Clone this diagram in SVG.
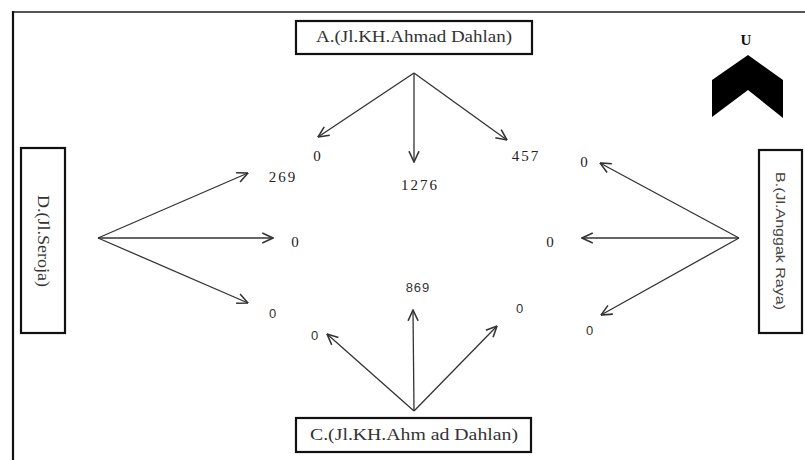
<svg xmlns="http://www.w3.org/2000/svg" width="805" height="460" viewBox="0 0 805 460">
<defs>
<marker id="ah" markerUnits="userSpaceOnUse" markerWidth="12" markerHeight="12" viewBox="0 0 10 10" refX="9.5" refY="5" orient="auto">
<path d="M0.5,0.8 L9.5,5 L0.5,9.2" fill="none" stroke="#333" stroke-width="1.3"/>
</marker>
</defs>
<style>
.box{fill:#fff;stroke:#111;stroke-width:2.2}
.lbl{font-family:"Liberation Serif",serif;font-size:16px;fill:#333}
.lbls{font-family:"Liberation Sans",sans-serif;font-size:13px;fill:#444}
.ns{font-family:"Liberation Serif",serif;font-size:15px;fill:#222;text-anchor:middle;letter-spacing:2px}
.nb{font-family:"Liberation Sans",sans-serif;font-size:13px;fill:#333;text-anchor:middle;letter-spacing:1px}
.c line{stroke:#333;stroke-width:1.3;marker-end:url(#ah)}
</style>
<rect width="805" height="460" fill="#fff"/>
<g id="frame">
<line x1="12" y1="12" x2="805" y2="12" stroke="#555" stroke-width="2.2"/>
<line x1="13" y1="11" x2="13" y2="460" stroke="#111" stroke-width="2.2"/>
</g>
<g id="nodeA">
<rect class="box" x="296" y="21" width="236" height="33"/>
<text class="lbl" x="414" y="42" text-anchor="middle" textLength="196" lengthAdjust="spacingAndGlyphs">A.(Jl.KH.Ahmad Dahlan)</text>
</g>
<g id="nodeC">
<rect class="box" x="296" y="418" width="235" height="34"/>
<text class="lbl" x="414" y="440" text-anchor="middle" textLength="208" lengthAdjust="spacingAndGlyphs">C.(Jl.KH.Ahm ad Dahlan)</text>
</g>
<g id="nodeD">
<rect class="box" x="21" y="148" width="44" height="185"/>
<text class="lbl" transform="translate(38,241) rotate(90)" text-anchor="middle" textLength="92" lengthAdjust="spacingAndGlyphs" fill="#555">D.(Jl.Seroja)</text>
</g>
<g id="nodeB">
<rect class="box" x="759" y="150" width="43" height="183"/>
<text class="lbls" transform="translate(776,241) rotate(90)" text-anchor="middle" textLength="138" lengthAdjust="spacingAndGlyphs">B.(Jl.Anggak Raya)</text>
</g>
<g id="north">
<text x="746" y="45" font-family="Liberation Serif,serif" font-weight="bold" font-size="15" text-anchor="middle" fill="#111">U</text>
<polygon points="748,55 783,80 783,118 748,90 712,117 712,80" fill="#000"/>
</g>
<g id="connectors" class="c">
<line x1="414" y1="73" x2="318" y2="137"/>
<line x1="414" y1="73" x2="414" y2="162"/>
<line x1="414" y1="73" x2="507" y2="140"/>
<line x1="98" y1="238" x2="248" y2="173"/>
<line x1="98" y1="238" x2="273" y2="238"/>
<line x1="98" y1="238" x2="248" y2="303"/>
<line x1="739" y1="238" x2="600" y2="163"/>
<line x1="739" y1="238" x2="582" y2="238"/>
<line x1="739" y1="238" x2="601" y2="315"/>
<line x1="414" y1="411" x2="327" y2="334"/>
<line x1="414" y1="411" x2="413" y2="310"/>
<line x1="414" y1="411" x2="497" y2="326"/>
</g>
<g id="labels">
<text class="ns" x="318" y="161">0</text>
<text class="ns" x="283" y="182">269</text>
<text class="ns" x="420" y="190" letter-spacing="3">1276</text>
<text class="ns" x="526" y="161">457</text>
<text class="ns" x="585" y="167">0</text>
<text class="ns" x="296" y="247">0</text>
<text class="ns" x="551" y="247">0</text>
<text class="nb" x="273" y="318">0</text>
<text class="nb" x="315" y="340">0</text>
<text class="nb" x="418" y="292">869</text>
<text class="nb" x="520" y="313">0</text>
<text class="nb" x="590" y="335">0</text>
</g>
</svg>
